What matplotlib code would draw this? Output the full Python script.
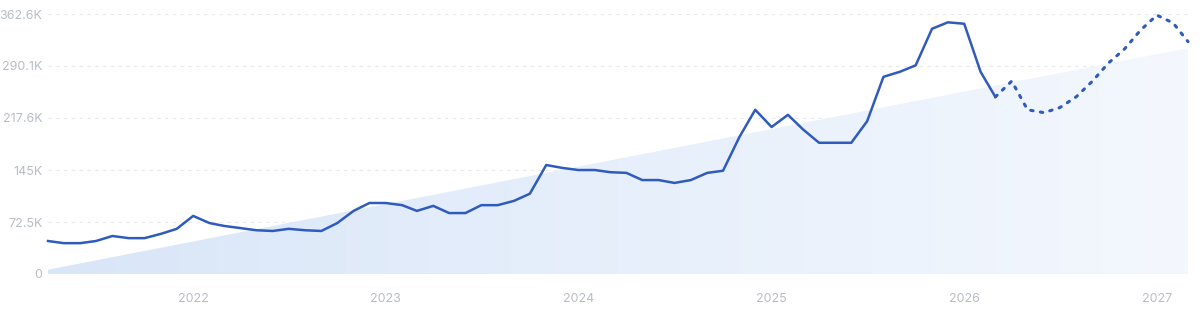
import numpy as np
import pandas as pd
import matplotlib
matplotlib.use("Agg")
import matplotlib.pyplot as plt
from matplotlib.patches import Polygon

plt.rcParams['font.family'] = ['Inter', 'DejaVu Sans']

# monthly values (thousands), Apr 2021 .. Mar 2026 actual
actual = [46, 43, 43, 46, 53, 50, 50, 56, 63, 81, 71, 67,
          64, 61, 60, 63, 61, 60, 71, 88, 99, 99, 96, 88,
          95, 85, 85, 96, 96, 102, 112, 152, 148, 145, 145, 142,
          141, 131, 131, 127, 131, 141, 144, 191, 229, 205, 222, 202,
          183, 183, 183, 213, 275, 282, 291, 342, 351, 349, 282, 247]
# forecast Mar 2026 .. Mar 2027
forecast = [247, 269, 229, 225, 232, 247, 269, 294, 314, 340, 361, 350, 324]
trend_ends = [6, 315]

y_ticks = [0, 72.5, 145, 217.6, 290.1, 362.6]
y_labels = ["0", "72.5K", "145K", "217.6K", "290.1K", "362.6K"]
years = [2022, 2023, 2024, 2025, 2026, 2027]

dates = pd.date_range("2021-04-01", periods=len(actual), freq="MS")
fdates = pd.date_range(dates[-1], periods=len(forecast), freq="MS")
x0 = matplotlib.dates.date2num(dates[0])
x1 = matplotlib.dates.date2num(fdates[-1])

fig = plt.figure(figsize=(12, 3.14), dpi=100)
ax = fig.add_axes([0.04, 0.1274, 0.95, 0.828])

# trend area with horizontal gradient
poly = Polygon([(x0, 0), (x0, trend_ends[0]), (x1, trend_ends[1]), (x1, 0)],
               closed=True, facecolor="none", edgecolor="none")
ax.add_patch(poly)
grad = np.linspace(0, 1, 256).reshape(1, -1)
cmap = matplotlib.colors.LinearSegmentedColormap.from_list(
    "g", ["#d9e6f8", "#f4f8fe"])
im = ax.imshow(grad, extent=[x0, x1, 0, trend_ends[1]], aspect="auto",
               cmap=cmap, zorder=1, origin="lower")
im.set_clip_path(poly)

ax.plot(dates, actual, color="#2f5bbd", lw=1.8, zorder=3,
        solid_joinstyle="round", clip_on=False)
ax.plot(fdates, forecast, color="#2f5bbd", lw=2.2, zorder=3,
        linestyle=(0, (0.8, 2.4)), dash_capstyle="round", clip_on=False)

ax.set_xlim(x0, x1)
ax.set_ylim(0, 362.6)
ax.set_yticks(y_ticks)
ax.set_yticklabels(y_labels)
ax.set_xticks([pd.Timestamp(f"{y}-01-01") for y in years])
ax.set_xticklabels([str(y) for y in years])
ax.tick_params(axis="both", length=0, labelsize=9, labelcolor="#b8bcc4")
ax.tick_params(axis="x", pad=14)
ax.tick_params(axis="y", pad=4)

for v in y_ticks[1:]:
    ax.axhline(v, color="#e6e9ee", lw=0.8, linestyle=(0, (3, 4)), zorder=0)
ax.axhline(0, color="#e8ebf0", lw=0.8, zorder=2)

for s in ax.spines.values():
    s.set_visible(False)

fig.savefig("out.png", dpi=100)
